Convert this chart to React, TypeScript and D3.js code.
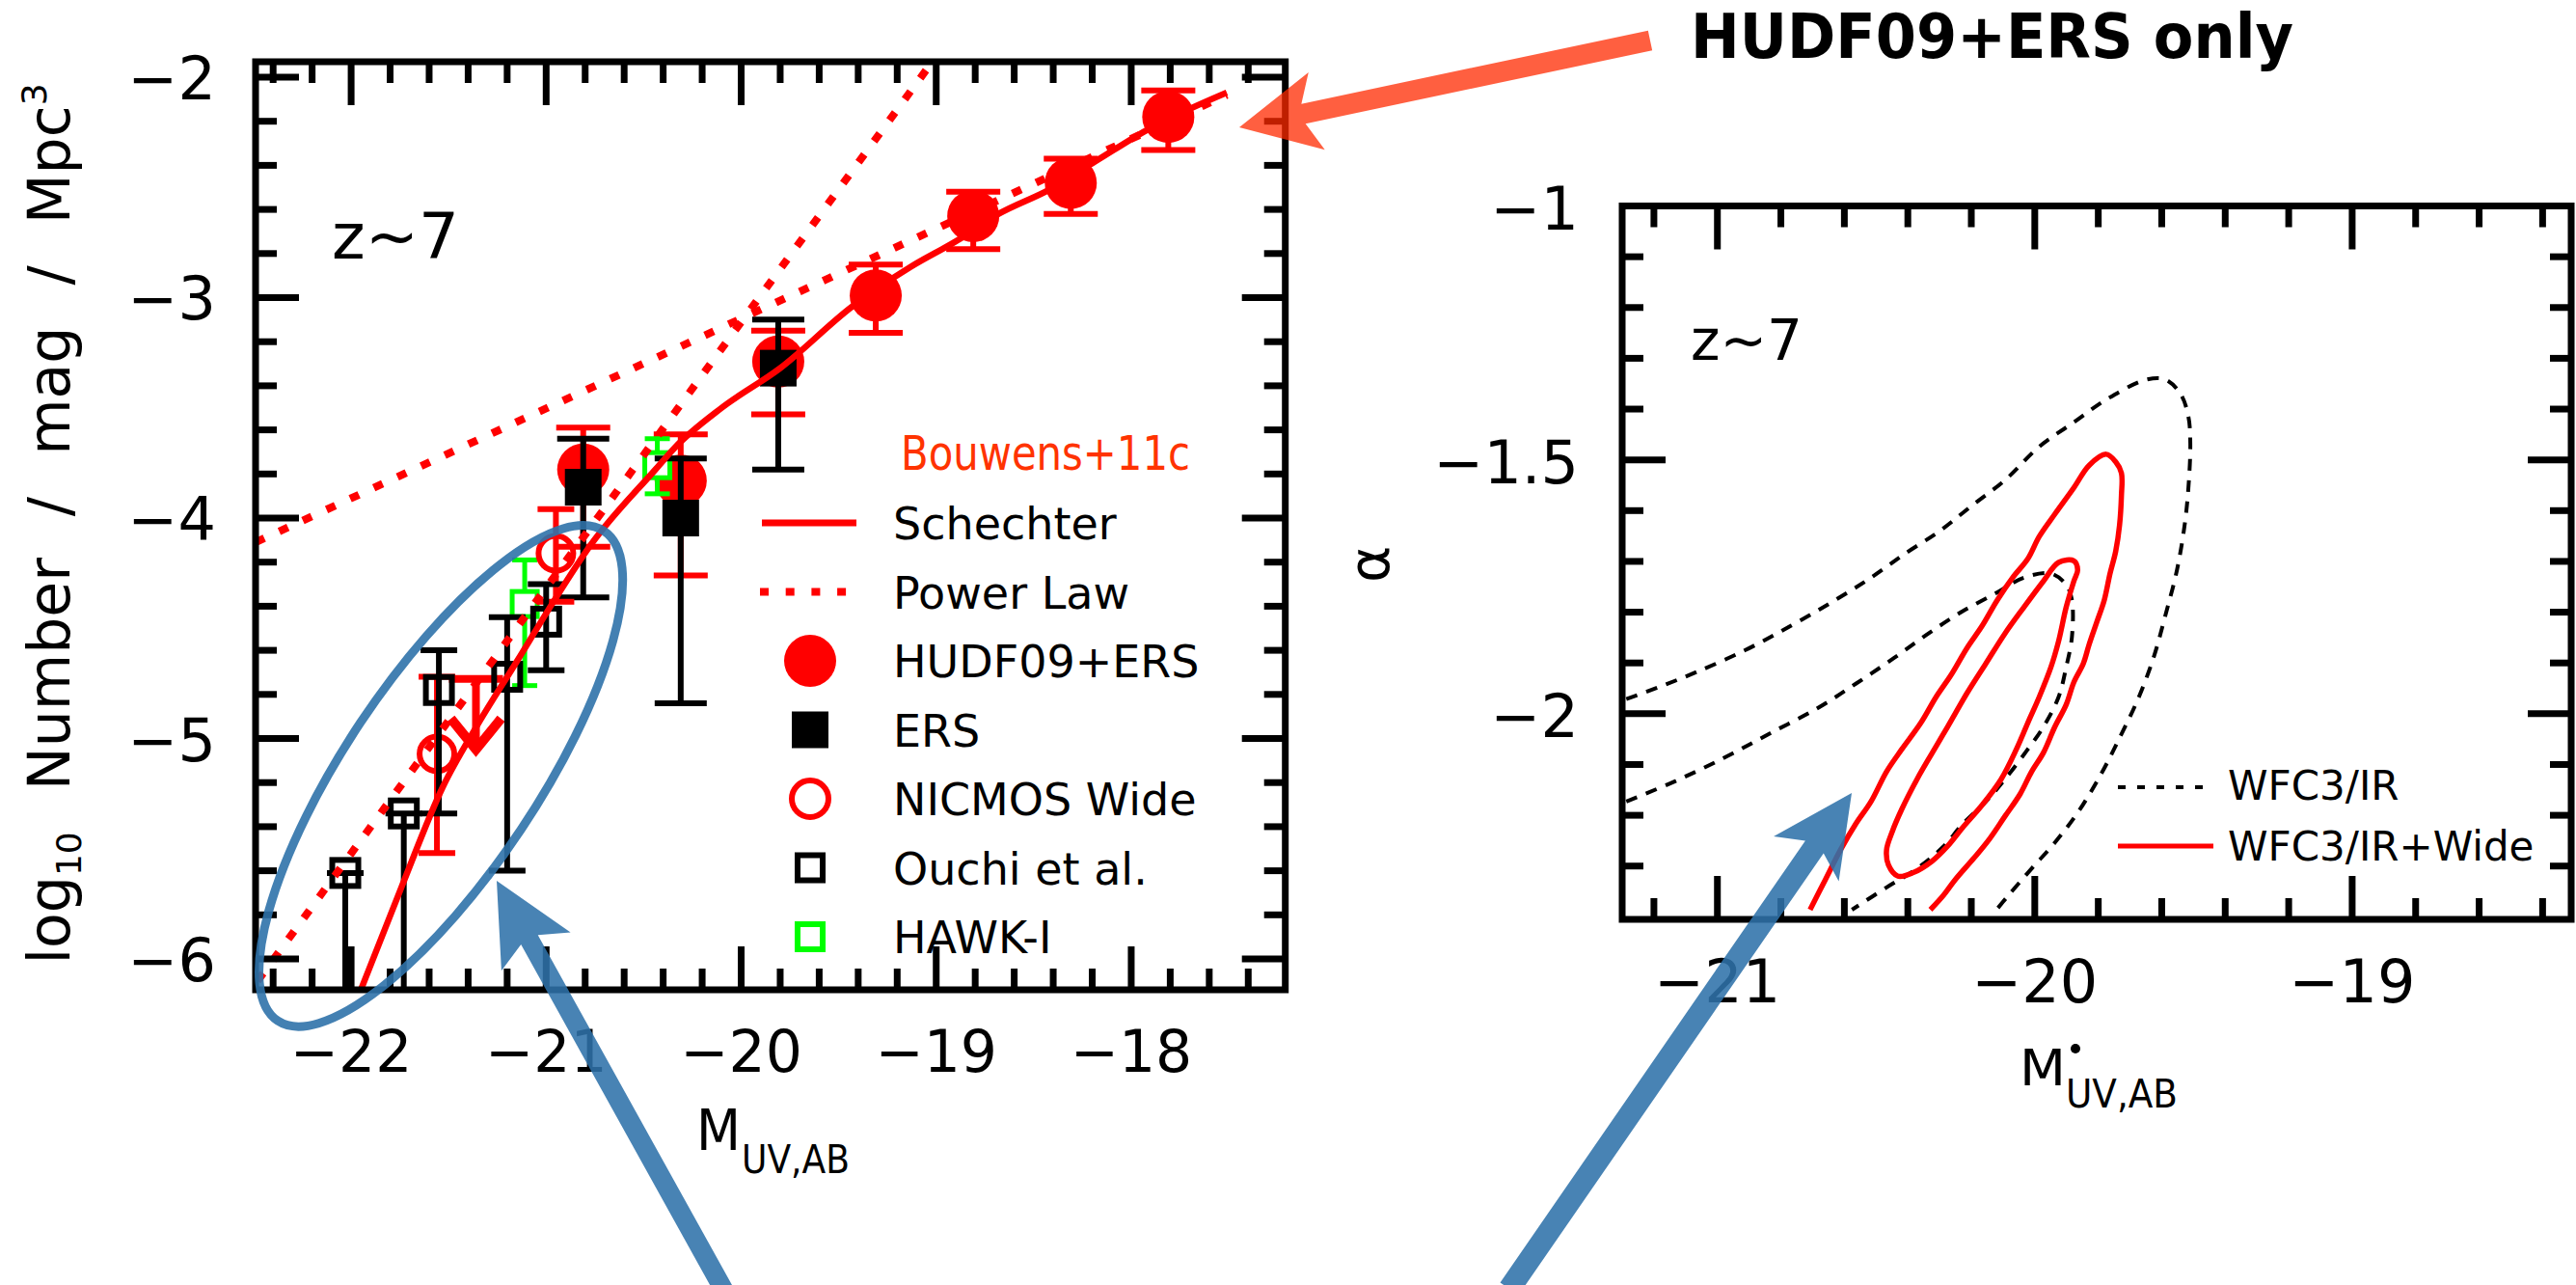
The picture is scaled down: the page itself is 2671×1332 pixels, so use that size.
import React from 'react';
import * as d3 from 'd3';

// ---------- z~7 UV luminosity function (left panel) ----------
const hudfMag = [-20.81, -20.31, -19.81, -19.31, -18.81, -18.31, -17.81];
const hudfLogPhi = [-3.78, -3.83, -3.29, -2.99, -2.63, -2.48, -2.18];
const hudfLogPhiLo = [-4.13, -4.26, -3.53, -3.16, -2.78, -2.62, -2.33];
const hudfLogPhiHi = [-3.59, -3.62, -3.15, -2.85, -2.52, -2.37, -2.06];

// upper limit for the brightest HUDF09+ERS bin
const hudfLimitMag = [-21.36];
const hudfLimitLogPhi = [-4.73];
const hudfLimitArrowTo = [-5.05];

const ersMag = [-20.81, -20.31, -19.81];
const ersLogPhi = [-3.86, -4.0, -3.32];
const ersLogPhiLo = [-4.36, -4.84, -3.78];
const ersLogPhiHi = [-3.64, -3.73, -3.1];

const nicmosMag = [-21.56, -20.95];
const nicmosLogPhi = [-5.07, -4.16];
const nicmosLogPhiLo = [-5.52, -4.38];
const nicmosLogPhiHi = [-4.72, -3.96];

const ouchiMag = [-22.03, -21.73, -21.55, -21.2, -21.0];
const ouchiLogPhi = [-5.61, -5.34, -4.78, -4.72, -4.47];
const ouchiLogPhiLo = [-7.0, -7.0, -5.34, -5.6, -4.69];
const ouchiLogPhiHi = [-5.61, -5.34, -4.6, -4.45, -4.3];

const hawkMag = [-21.11, -20.43];
const hawkLogPhi = [-4.39, -3.76];
const hawkLogPhiLo = [-4.76, -3.89];
const hawkLogPhiHi = [-4.19, -3.64];

// Schechter fit (Bouwens+11c)
const schechterMag = [-21.95, -21.74, -21.53, -21.36, -21.15, -20.97, -20.77, -20.44, -20.34, -20.1, -19.8, -19.43, -19.13, -18.89, -18.68, -18.42, -18.18, -17.92, -17.51];
const schechterLogPhi = [-6.14, -5.67, -5.22, -4.95, -4.65, -4.39, -4.12, -3.78, -3.68, -3.5, -3.32, -3.04, -2.86, -2.74, -2.62, -2.51, -2.38, -2.24, -2.07];

// power-law fits
const powerLawShallowMag = [-22.49, -17.51];
const powerLawShallowLogPhi = [-4.11, -2.08];
const powerLawSteepMag = [-22.48, -19.02];
const powerLawSteepLogPhi = [-6.1, -1.93];

const lfXTicks = [-22, -21, -20, -19, -18];
const lfYTicks = [-6, -5, -4, -3, -2];

const lfLegendLabels = ['Schechter', 'Power Law', 'HUDF09+ERS', 'ERS', 'NICMOS Wide', 'Ouchi et al.', 'HAWK-I'];

// ---------- M* vs alpha likelihood contours (right panel) ----------
const wfc3Outer: [number, number][] = [
  [-21.287, -1.971], [-21.19, -1.949], [-21.07, -1.919], [-20.913, -1.875], [-20.769, -1.827], [-20.636, -1.779],
  [-20.516, -1.732], [-20.407, -1.684], [-20.299, -1.64], [-20.202, -1.592], [-20.094, -1.54], [-19.986, -1.474],
  [-19.877, -1.426], [-19.769, -1.379], [-19.648, -1.342], [-19.588, -1.342], [-19.54, -1.371], [-19.516, -1.415],
  [-19.51, -1.467], [-19.516, -1.555], [-19.528, -1.629], [-19.552, -1.717], [-19.588, -1.805], [-19.624, -1.886],
  [-19.672, -1.967], [-19.733, -2.048], [-19.793, -2.121], [-19.865, -2.195], [-19.937, -2.254], [-20.01, -2.305],
  [-20.082, -2.357], [-20.13, -2.393],
];
const wfc3Inner: [number, number][] = [
  [-21.287, -2.173], [-21.13, -2.132], [-20.973, -2.085], [-20.829, -2.037], [-20.684, -1.989], [-20.564, -1.941],
  [-20.443, -1.89], [-20.335, -1.842], [-20.227, -1.798], [-20.118, -1.761], [-20.034, -1.732], [-19.949, -1.724],
  [-19.901, -1.746], [-19.883, -1.776], [-19.883, -1.849], [-19.901, -1.908], [-19.925, -1.967], [-19.973, -2.026],
  [-20.022, -2.07], [-20.094, -2.129], [-20.154, -2.173], [-20.227, -2.217], [-20.287, -2.261], [-20.371, -2.305],
  [-20.467, -2.342], [-20.576, -2.386],
];
const wideOuter: [number, number][] = [
  [-20.708, -2.386], [-20.66, -2.327], [-20.612, -2.268], [-20.564, -2.217], [-20.516, -2.173], [-20.467, -2.114],
  [-20.419, -2.07], [-20.359, -2.018], [-20.311, -1.967], [-20.263, -1.923], [-20.214, -1.871], [-20.166, -1.827],
  [-20.118, -1.776], [-20.07, -1.732], [-20.022, -1.695], [-19.986, -1.651], [-19.937, -1.607], [-19.877, -1.555],
  [-19.829, -1.511], [-19.775, -1.489], [-19.745, -1.504], [-19.727, -1.526], [-19.727, -1.57], [-19.733, -1.629],
  [-19.745, -1.68], [-19.763, -1.724], [-19.781, -1.776], [-19.805, -1.82], [-19.829, -1.864], [-19.847, -1.901],
  [-19.877, -1.938], [-19.901, -1.982], [-19.937, -2.026], [-19.973, -2.077], [-20.01, -2.114], [-20.046, -2.158],
  [-20.094, -2.202], [-20.142, -2.246], [-20.19, -2.283], [-20.251, -2.327], [-20.287, -2.357], [-20.329, -2.386],
];
const wideInner: [number, number][] = [
  [-19.877, -1.699], [-19.925, -1.702], [-19.973, -1.739], [-20.034, -1.79], [-20.094, -1.842], [-20.154, -1.901],
  [-20.214, -1.96], [-20.275, -2.026], [-20.323, -2.077], [-20.371, -2.129], [-20.419, -2.188], [-20.449, -2.232],
  [-20.467, -2.268], [-20.461, -2.298], [-20.431, -2.32], [-20.383, -2.313], [-20.323, -2.29], [-20.275, -2.261],
  [-20.227, -2.224], [-20.166, -2.18], [-20.106, -2.129], [-20.058, -2.07], [-20.022, -2.018], [-19.986, -1.967],
  [-19.949, -1.908], [-19.925, -1.857], [-19.901, -1.79], [-19.877, -1.739], [-19.865, -1.717],
];

const parXTicks = [-21, -20, -19];
const parYTicks = [-2, -1.5, -1];
const parYTickLabels = ['\u22122', '\u22121.5', '\u22121'];

const W = 2671;
const H = 1332;
const RED = '#ff0000';
const GREEN = '#00ff00';
const BLUE = '#2f72aa';
const FONT = "'DejaVu Sans', 'Liberation Sans', sans-serif";

const zip = (a: number[], b: number[]): [number, number][] => a.map((v, i) => [v, b[i]]);
const minus = (v: number) => (v < 0 ? '\u2212' + String(Math.abs(v)) : String(v));

function arrowPoints(x0: number, y0: number, x1: number, y1: number, w: number, L: number, hw: number, notch: number) {
  const dx = x1 - x0, dy = y1 - y0, len = Math.hypot(dx, dy);
  const ux = dx / len, uy = dy / len, px = -uy, py = ux;
  const bx = x1 - ux * L, by = y1 - uy * L;
  const jx = x1 - ux * (L - notch), jy = y1 - uy * (L - notch);
  const pts = [
    [x1, y1],
    [bx + (px * hw) / 2, by + (py * hw) / 2],
    [jx + (px * w) / 2, jy + (py * w) / 2],
    [x0 + (px * w) / 2, y0 + (py * w) / 2],
    [x0 - (px * w) / 2, y0 - (py * w) / 2],
    [jx - (px * w) / 2, jy - (py * w) / 2],
    [bx - (px * hw) / 2, by - (py * hw) / 2],
  ];
  return pts.map((p) => p.join(',')).join(' ');
}

type Sc = d3.ScaleLinear<number, number>;

function Frame({ x, y, xMajor, xMinor, yMajor, yMinor }: { x: Sc; y: Sc; xMajor: number[]; xMinor: number[]; yMajor: number[]; yMinor: number[] }) {
  const [x0, x1] = x.range();
  const [y0, y1] = y.range(); // y0 bottom, y1 top
  const big = 45, small = 22, sw = 7;
  const ticks: JSX.Element[] = [];
  xMajor.concat(xMinor).forEach((v, i) => {
    const len = i < xMajor.length ? big : small;
    const px = x(v);
    ticks.push(<line key={'xb' + i} x1={px} x2={px} y1={y0} y2={y0 - len} />);
    ticks.push(<line key={'xt' + i} x1={px} x2={px} y1={y1} y2={y1 + len} />);
  });
  yMajor.concat(yMinor).forEach((v, i) => {
    const len = i < yMajor.length ? big : small;
    const py = y(v);
    ticks.push(<line key={'yl' + i} x1={x0} x2={x0 + len} y1={py} y2={py} />);
    ticks.push(<line key={'yr' + i} x1={x1} x2={x1 - len} y1={py} y2={py} />);
  });
  return (
    <g stroke="#000" strokeWidth={sw} fill="none">
      {ticks}
      <rect x={x0} y={y1} width={x1 - x0} height={y0 - y1} strokeWidth={7} strokeLinejoin="miter" />
    </g>
  );
}

function ErrorBar({ x, lo, hi, cap, color, sw }: { x: number; lo: number; hi: number; cap: number; color: string; sw: number }) {
  return (
    <g stroke={color} strokeWidth={sw}>
      <line x1={x} x2={x} y1={lo} y2={hi} />
      <line x1={x - cap / 2} x2={x + cap / 2} y1={lo} y2={lo} />
      {Math.abs(hi - lo) > 1 && <line x1={x - cap / 2} x2={x + cap / 2} y1={hi} y2={hi} />}
    </g>
  );
}

export default function App() {
  // left panel scales
  const xL = d3.scaleLinear().domain([-22.49, -17.21]).range([265, 1332.7]);
  const yL = d3.scaleLinear().domain([-6.14, -1.93]).range([1026, 64]);
  // right panel scales
  const xR = d3.scaleLinear().domain([-21.3, -18.31]).range([1682, 2666]);
  const yR = d3.scaleLinear().domain([-2.405, -1.0]).range([953, 213.5]);

  const lineL = d3.line<[number, number]>().x((d) => xL(d[0])).y((d) => yL(d[1]));
  const schechterPath = d3.line<[number, number]>().x((d) => xL(d[0])).y((d) => yL(d[1])).curve(d3.curveMonotoneX)(zip(schechterMag, schechterLogPhi)) || '';
  const contourOpen = d3.line<[number, number]>().x((d) => xR(d[0])).y((d) => yR(d[1])).curve(d3.curveCatmullRom.alpha(0.5));
  const contourClosed = d3.line<[number, number]>().x((d) => xR(d[0])).y((d) => yR(d[1])).curve(d3.curveCatmullRomClosed.alpha(0.5));

  const lfXMinor = d3.range(-22.4, -17.3, 0.2).map((v) => +v.toFixed(1)).filter((v) => Math.abs(v - Math.round(v)) > 0.01);
  const lfYMinor = d3.range(-6.0, -1.95, 0.2).map((v) => +v.toFixed(1)).filter((v) => Math.abs(v - Math.round(v)) > 0.01);
  const parXMinor = d3.range(-21.2, -18.35, 0.2).map((v) => +v.toFixed(1)).filter((v) => Math.abs(v - Math.round(v)) > 0.01);
  const parYMinor = d3.range(-2.3, -1.05, 0.1).map((v) => +v.toFixed(1)).filter((v) => Math.abs(v * 2 - Math.round(v * 2)) > 0.01);

  const [lx0, lx1] = xL.range();
  const [ly0, ly1] = yL.range();
  const [rx0, rx1] = xR.range();
  const [ry0, ry1] = yR.range();

  const legY = (i: number) => 542 + i * 71.5;
  const legMarkX = 840;
  const legTextX = 926;

  const limX = xL(hudfLimitMag[0]);
  const limY = yL(hudfLimitLogPhi[0]);
  const limTip = yL(hudfLimitArrowTo[0]);

  return (
    <svg width={W} height={H} viewBox={`0 0 ${W} ${H}`} style={{ position: 'absolute', left: 0, top: 0, background: '#fff' }} fontFamily={FONT}>
      <defs>
        <clipPath id="clipL">
          <rect x={lx0} y={ly1} width={lx1 - lx0} height={ly0 - ly1} />
        </clipPath>
        <clipPath id="clipR">
          <rect x={rx0} y={ry1} width={rx1 - rx0} height={ry0 - ry1} />
        </clipPath>
      </defs>
      <rect x={0} y={0} width={W} height={H} fill="#fff" />

      {/* ================= left panel ================= */}
      <g clipPath="url(#clipL)">
        {/* HUDF09+ERS */}
        {hudfMag.map((m, i) => (
          <ErrorBar key={'he' + i} x={xL(m)} lo={yL(hudfLogPhiLo[i])} hi={yL(hudfLogPhiHi[i])} cap={56} color={RED} sw={6} />
        ))}
        {hudfMag.map((m, i) => (
          <circle key={'hc' + i} cx={xL(m)} cy={yL(hudfLogPhi[i])} r={27} fill={RED} />
        ))}
        {/* upper limit */}
        <g stroke={RED} strokeWidth={8} fill="none" strokeLinecap="butt">
          <line x1={limX - 28} x2={limX + 28} y1={limY} y2={limY} />
          <line x1={limX} x2={limX} y1={limY} y2={limTip} />
          <polyline points={`${limX - 26},${limTip - 32} ${limX},${limTip} ${limX + 26},${limTip - 32}`} strokeWidth={10} />
        </g>
        {/* HAWK-I */}
        {hawkMag.map((m, i) => (
          <g key={'hk' + i}>
            <ErrorBar x={xL(m)} lo={yL(hawkLogPhiLo[i])} hi={yL(hawkLogPhiHi[i])} cap={26} color={GREEN} sw={5} />
            <rect x={xL(m) - 13} y={yL(hawkLogPhi[i]) - 13} width={26} height={26} fill="#fff" stroke={GREEN} strokeWidth={5} />
          </g>
        ))}
        {/* ERS */}
        {ersMag.map((m, i) => (
          <g key={'er' + i}>
            <ErrorBar x={xL(m)} lo={yL(ersLogPhiLo[i])} hi={yL(ersLogPhiHi[i])} cap={54} color="#000" sw={6} />
            <rect x={xL(m) - 19} y={yL(ersLogPhi[i]) - 19} width={38} height={38} fill="#000" />
          </g>
        ))}
        {/* NICMOS Wide */}
        {nicmosMag.map((m, i) => (
          <g key={'nc' + i}>
            <ErrorBar x={xL(m)} lo={yL(nicmosLogPhiLo[i])} hi={yL(nicmosLogPhiHi[i])} cap={38} color={RED} sw={6} />
            <circle cx={xL(m)} cy={yL(nicmosLogPhi[i])} r={18} fill="none" stroke={RED} strokeWidth={6} />
          </g>
        ))}
        {/* Ouchi et al. */}
        {ouchiMag.map((m, i) => (
          <g key={'ou' + i}>
            <ErrorBar x={xL(m)} lo={yL(ouchiLogPhiLo[i])} hi={yL(ouchiLogPhiHi[i])} cap={38} color="#000" sw={6} />
            <rect x={xL(m) - 13.5} y={yL(ouchiLogPhi[i]) - 13.5} width={27} height={27} fill="none" stroke="#000" strokeWidth={6} />
          </g>
        ))}
        {/* fits */}
        <path d={lineL(zip(powerLawShallowMag, powerLawShallowLogPhi)) || ''} fill="none" stroke={RED} strokeWidth={8} strokeDasharray="10 17" />
        <path d={lineL(zip(powerLawSteepMag, powerLawSteepLogPhi)) || ''} fill="none" stroke={RED} strokeWidth={8} strokeDasharray="10 17" />
        <path d={schechterPath} fill="none" stroke={RED} strokeWidth={6.5} />
      </g>

      <Frame x={xL} y={yL} xMajor={lfXTicks} xMinor={lfXMinor} yMajor={lfYTicks} yMinor={lfYMinor} />

      {/* left tick labels */}
      <g fontSize={60} textAnchor="middle" fill="#000">
        {lfXTicks.map((t) => (
          <text key={'lx' + t} x={xL(t)} y={1111}>{minus(t)}</text>
        ))}
      </g>
      <g fontSize={62} textAnchor="end" fill="#000">
        {lfYTicks.map((t) => (
          <text key={'ly' + t} x={224} y={yL(t) + 23}>{minus(t)}</text>
        ))}
      </g>

      {/* left axis titles */}
      <text x={722} y={1192} fontSize={58} textLength={46} lengthAdjust="spacingAndGlyphs">M</text>
      <text x={769} y={1216} fontSize={40} textLength={112} lengthAdjust="spacingAndGlyphs">UV,AB</text>
      <text transform="translate(72,543) rotate(-90)" fontSize={60} textAnchor="middle" wordSpacing={24}>
        log<tspan fontSize={36} dy={12}>10</tspan>
        <tspan dy={-12}> Number / mag / Mpc</tspan>
        <tspan fontSize={36} dy={-24}>3</tspan>
      </text>

      <text x={344} y={268} fontSize={66}>z~7</text>

      {/* left legend */}
      <text x={934} y={487} fontSize={50} fill="#ff3300" textLength={300} lengthAdjust="spacingAndGlyphs">Bouwens+11c</text>
      <line x1={790} x2={888} y1={legY(0)} y2={legY(0)} stroke={RED} strokeWidth={7} />
      <line x1={788} x2={880} y1={legY(1)} y2={legY(1)} stroke={RED} strokeWidth={8} strokeDasharray="9 17.7" />
      <circle cx={legMarkX} cy={legY(2)} r={27} fill={RED} />
      <rect x={legMarkX - 19} y={legY(3) - 19} width={38} height={38} fill="#000" />
      <circle cx={legMarkX} cy={legY(4)} r={19} fill="none" stroke={RED} strokeWidth={6} />
      <rect x={legMarkX - 13} y={legY(5) - 13} width={26} height={26} fill="none" stroke="#000" strokeWidth={6} />
      <rect x={legMarkX - 13} y={legY(6) - 13} width={26} height={26} fill="none" stroke={GREEN} strokeWidth={6} />
      <g fontSize={46} fill="#000">
        {lfLegendLabels.map((s, i) => (
          <text key={'lg' + i} x={legTextX} y={legY(i) + 17}>{s}</text>
        ))}
      </g>

      {/* ================= right panel ================= */}
      <g clipPath="url(#clipR)" fill="none">
        <path d={contourOpen(wfc3Outer) || ''} stroke="#000" strokeWidth={4} strokeDasharray="12 10" />
        <path d={contourOpen(wfc3Inner) || ''} stroke="#000" strokeWidth={4} strokeDasharray="12 10" />
        <path d={contourOpen(wideOuter) || ''} stroke={RED} strokeWidth={5.5} />
        <path d={contourClosed(wideInner) || ''} stroke={RED} strokeWidth={5.5} />
      </g>

      <Frame x={xR} y={yR} xMajor={parXTicks} xMinor={parXMinor} yMajor={parYTicks} yMinor={parYMinor} />

      <g fontSize={62} textAnchor="middle" fill="#000">
        {parXTicks.map((t) => (
          <text key={'rx' + t} x={xR(t)} y={1039}>{minus(t)}</text>
        ))}
      </g>
      <g fontSize={62} textAnchor="end" fill="#000">
        {parYTicks.map((t, i) => (
          <text key={'ry' + t} x={1637} y={yR(t) + 24}>{parYTickLabels[i]}</text>
        ))}
      </g>
      <text x={2094} y={1125} fontSize={52} textLength={48} lengthAdjust="spacingAndGlyphs">M</text>
      <circle cx={2152} cy={1087} r={5} fill="#000" />
      <text x={2142} y={1148} fontSize={40} textLength={116} lengthAdjust="spacingAndGlyphs">UV,AB</text>
      <text transform="translate(1440,585) rotate(-90)" fontSize={58} textAnchor="middle">α</text>

      <text x={1753} y={373} fontSize={58}>z~7</text>

      {/* right legend */}
      <line x1={2196} x2={2295} y1={816} y2={816} stroke="#000" strokeWidth={4} strokeDasharray="8 12" />
      <line x1={2196} x2={2295} y1={877} y2={877} stroke={RED} strokeWidth={5} />
      <g fontSize={42} fill="#000">
        <text x={2310} y={829}>WFC3/IR</text>
        <text x={2310} y={892}>WFC3/IR+Wide</text>
      </g>

      {/* ================= annotations ================= */}
      <ellipse
        cx={xL(-21.54)}
        cy={yL(-5.17)}
        rx={305}
        ry={100}
        transform={`rotate(-56.3 ${xL(-21.54)} ${yL(-5.17)})`}
        fill="none"
        stroke={BLUE}
        strokeOpacity={0.9}
        strokeWidth={9}
      />
      <polygon points={arrowPoints(752, 1340, 515, 913, 20, 84, 82, 14)} fill={BLUE} fillOpacity={0.88} />
      <polygon points={arrowPoints(1565, 1336, 1920, 822, 23, 83, 82, 15)} fill={BLUE} fillOpacity={0.88} />
      <polygon points={arrowPoints(1711, 42, 1285, 132, 21, 82, 82, 14)} fill="#ff2a00" fillOpacity={0.75} />
      <text x={1753} y={60} fontSize={64} fontWeight="bold" textLength={625} lengthAdjust="spacingAndGlyphs">HUDF09+ERS only</text>
    </svg>
  );
}
